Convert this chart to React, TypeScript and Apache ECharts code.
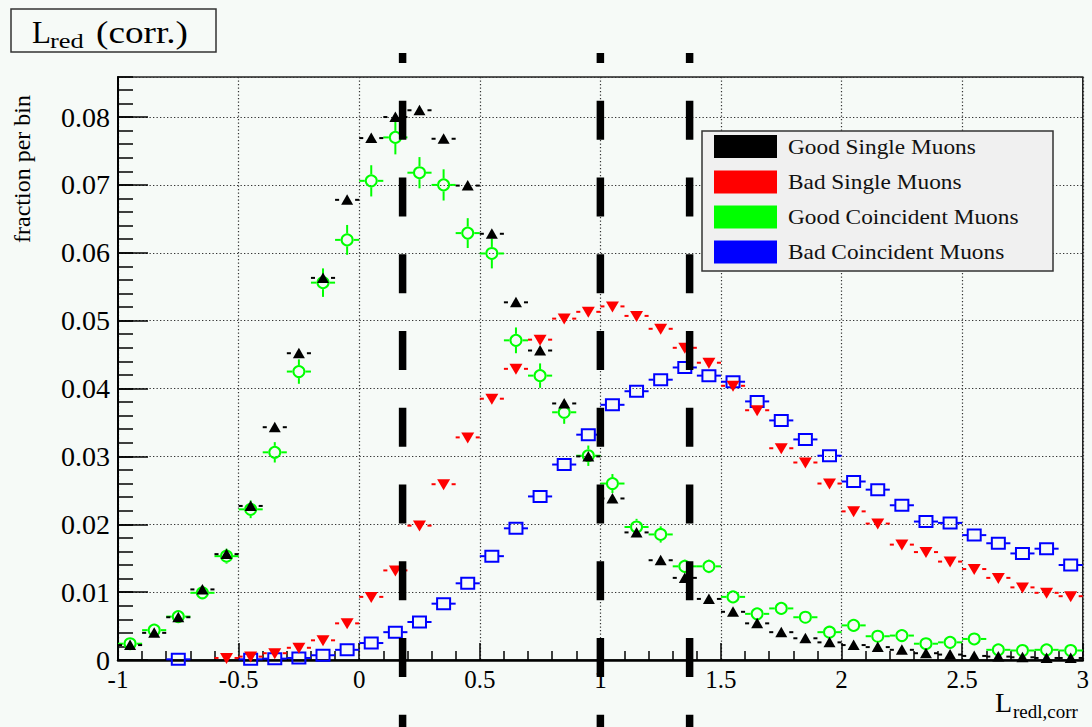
import { useEffect, useRef } from "react";
import * as echarts from "echarts";

// Bin centres of the 40 histogram bins (width 0.1) spanning -1 .. 3
const binCenters = [
  -0.95, -0.85, -0.75, -0.65, -0.55, -0.45, -0.35, -0.25, -0.15, -0.05,
  0.05, 0.15, 0.25, 0.35, 0.45, 0.55, 0.65, 0.75, 0.85, 0.95,
  1.05, 1.15, 1.25, 1.35, 1.45, 1.55, 1.65, 1.75, 1.85, 1.95,
  2.05, 2.15, 2.25, 2.35, 2.45, 2.55, 2.65, 2.75, 2.85, 2.95,
];
const binWidth = 0.1;

// Fraction per bin for each muon class (null = empty bin, not drawn)
const goodSingle = [
  0.0022, 0.0040, 0.0063, 0.0104, 0.0156, 0.0227, 0.0343, 0.0452, 0.0563, 0.0678,
  0.0769, 0.0800, 0.0810, 0.0768, 0.0699, 0.0628, 0.0527, 0.0456, 0.0378, 0.0300,
  0.0238, 0.0188, 0.0147, 0.0121, 0.0090, 0.0071, 0.0054, 0.0041, 0.0032, 0.0026,
  0.0022, 0.0019, 0.0015, 0.0010, 0.0008, 0.0006, 0.0005, 0.0004, 0.0003, 0.0003,
];
const badSingle = [
  null, null, null, null, 0.0003, 0.0005, 0.0010, 0.0018, 0.0029, 0.0054,
  0.0093, 0.0132, 0.0198, 0.0259, 0.0328, 0.0385, 0.0429, 0.0472, 0.0503, 0.0513,
  0.0521, 0.0507, 0.0488, 0.0460, 0.0438, 0.0404, 0.0368, 0.0312, 0.0291, 0.0260,
  0.0219, 0.0201, 0.0170, 0.0159, 0.0145, 0.0134, 0.0121, 0.0107, 0.0099, 0.0094,
];
const goodCoincident = [
  0.0024, 0.0044, 0.0064, 0.0099, 0.0153, 0.0222, 0.0306, 0.0425, 0.0556, 0.0619,
  0.0706, 0.0770, 0.0718, 0.0700, 0.0629, 0.0599, 0.0471, 0.0419, 0.0365, 0.0301,
  0.0260, 0.0196, 0.0185, 0.0138, 0.0138, 0.0093, 0.0068, 0.0076, 0.0063, 0.0041,
  0.0051, 0.0035, 0.0036, 0.0024, 0.0026, 0.0031, 0.0015, 0.0014, 0.0015, 0.0014,
];
const goodCoincidentErr = [
  0.0004, 0.0006, 0.0007, 0.0009, 0.0011, 0.0013, 0.0015, 0.0018, 0.0021, 0.0022,
  0.0023, 0.0025, 0.0023, 0.0023, 0.0022, 0.0022, 0.0019, 0.0018, 0.0017, 0.0015,
  0.0014, 0.0012, 0.0012, 0.0010, 0.0010, 0.0009, 0.0007, 0.0008, 0.0007, 0.0006,
  0.0006, 0.0005, 0.0005, 0.0004, 0.0004, 0.0005, 0.0003, 0.0003, 0.0003, 0.0003,
];
const badCoincident = [
  null, null, 0.0001, null, null, 0.0001, 0.0002, 0.0003, 0.0007, 0.0015,
  0.0025, 0.0041, 0.0056, 0.0083, 0.0113, 0.0153, 0.0194, 0.0241, 0.0288, 0.0332,
  0.0376, 0.0396, 0.0413, 0.0431, 0.0419, 0.0410, 0.0381, 0.0353, 0.0325, 0.0301,
  0.0263, 0.0251, 0.0228, 0.0204, 0.0202, 0.0184, 0.0172, 0.0157, 0.0164, 0.0140,
];

// Cut positions marked with thick dashed lines
const cutValues = [0.18, 1.0, 1.37];

const seriesNames = [
  "Good Single Muons",
  "Bad Single Muons",
  "Good Coincident Muons",
  "Bad Coincident Muons",
];
const seriesColors = ["#000000", "#ff0000", "#00ff00", "#0000ff"];

const FONT = "Liberation Serif";
const BG = "#f6faf7";

type Marker = "triUp" | "triDown" | "circle" | "square";

function histSeries(
  name: string,
  values: (number | null)[],
  errs: number[] | null,
  color: string,
  marker: Marker,
  z: number
) {
  const data: number[][] = [];
  values.forEach((v, i) => {
    if (v != null) data.push([binCenters[i], v, errs ? errs[i] : 0]);
  });
  const gapH = marker === "circle" ? 6.5 : marker === "square" ? 7 : 8;
  const gapV = marker === "circle" ? 6.5 : 6;
  return {
    type: "custom",
    name,
    data,
    z,
    clip: false,
    encode: { x: 0, y: 1 },
    renderItem: (_params: any, api: any) => {
      const xv = api.value(0);
      const yv = api.value(1);
      const ev = api.value(2);
      const c = api.coord([xv, yv]);
      const l = api.coord([xv - binWidth / 2, yv]);
      const r = api.coord([xv + binWidth / 2, yv]);
      const top = api.coord([xv, yv + ev]);
      const bot = api.coord([xv, yv - ev]);
      const stroke = { stroke: color, lineWidth: 2, fill: "none" };
      const children: any[] = [];
      if (c[0] - gapH > l[0])
        children.push({ type: "line", shape: { x1: l[0], y1: c[1], x2: c[0] - gapH, y2: c[1] }, style: stroke });
      if (r[0] > c[0] + gapH)
        children.push({ type: "line", shape: { x1: c[0] + gapH, y1: c[1], x2: r[0], y2: c[1] }, style: stroke });
      if (c[1] - top[1] > gapV)
        children.push({ type: "line", shape: { x1: c[0], y1: top[1], x2: c[0], y2: c[1] - gapV }, style: stroke });
      if (bot[1] - c[1] > gapV)
        children.push({ type: "line", shape: { x1: c[0], y1: c[1] + gapV, x2: c[0], y2: bot[1] }, style: stroke });
      if (marker === "triUp") {
        children.push({
          type: "polygon",
          shape: { points: [[c[0] - 6, c[1] + 5], [c[0] + 6, c[1] + 5], [c[0], c[1] - 5.5]] },
          style: { fill: color },
        });
      } else if (marker === "triDown") {
        children.push({
          type: "polygon",
          shape: { points: [[c[0] - 6.5, c[1] - 5], [c[0] + 6.5, c[1] - 5], [c[0], c[1] + 6]] },
          style: { fill: color },
        });
      } else if (marker === "circle") {
        children.push({ type: "circle", shape: { cx: c[0], cy: c[1], r: 5.5 }, style: stroke });
      } else {
        children.push({ type: "rect", shape: { x: c[0] - 6.5, y: c[1] - 5.5, width: 13, height: 11 }, style: stroke });
      }
      return { type: "group", children };
    },
  };
}

export default function App() {
  const ref = useRef<HTMLDivElement>(null);

  useEffect(() => {
    const chart = echarts.init(ref.current!, null, { renderer: "svg" });
    const yMax = 0.0859;
    const tickLine = { color: "#000", width: 1.5 };
    const gridLine = { color: "#333", width: 1.2, type: [1.3, 2.2] };
    chart.setOption({
      animation: false,
      backgroundColor: BG,
      textStyle: { fontFamily: FONT },
      grid: {
        left: 118,
        right: 8,
        top: 77,
        bottom: 67,
        show: true,
        borderColor: "#222",
        borderWidth: 1.5,
        backgroundColor: "transparent",
      },
      xAxis: {
        type: "value",
        min: -1,
        max: 3,
        interval: 0.5,
        axisLine: { show: true, onZero: false, lineStyle: { color: "#000", width: 2.5 } },
        axisTick: { show: true, inside: true, length: 17, lineStyle: tickLine },
        minorTick: { show: true, splitNumber: 5, length: 9, lineStyle: tickLine },
        splitLine: { show: true, lineStyle: gridLine },
        axisLabel: {
          fontFamily: FONT,
          fontSize: 25,
          color: "#000",
          margin: 7,
          formatter: (v: number) => `{t|${v}}`,
          rich: { t: { fontFamily: FONT, fontSize: 25, color: "#000" } },
        },
      },
      yAxis: [
        {
          type: "value",
          min: 0,
          max: yMax,
          interval: 0.01,
          position: "left",
          axisLine: { show: true, onZero: false, lineStyle: { color: "#000", width: 2 } },
          axisTick: { show: true, inside: true, length: 30, lineStyle: tickLine },
          splitLine: { show: true, lineStyle: gridLine },
          axisLabel: {
            fontFamily: FONT,
            fontSize: 28,
            color: "#000",
            margin: 8,
            showMaxLabel: false,
            formatter: (v: number) => `{t|${v === 0 ? "0" : v.toFixed(2)}}`,
            rich: { t: { fontFamily: FONT, fontSize: 28, color: "#000" } },
          },
        },
        {
          // minor ticks every 0.002
          type: "value",
          min: 0,
          max: yMax,
          interval: 0.002,
          position: "left",
          axisLine: { show: false, onZero: false },
          axisTick: { show: true, inside: true, length: 15, lineStyle: tickLine },
          splitLine: { show: false },
          axisLabel: { show: false },
        },
      ],
      series: [
        histSeries(seriesNames[2], goodCoincident, goodCoincidentErr, seriesColors[2], "circle", 2),
        histSeries(seriesNames[3], badCoincident, null, seriesColors[3], "square", 3),
        histSeries(seriesNames[1], badSingle, null, seriesColors[1], "triDown", 4),
        histSeries(seriesNames[0], goodSingle, null, seriesColors[0], "triUp", 5),
      ],
    });

    const cutLines = cutValues.map((v) => {
      const px = chart.convertToPixel({ xAxisIndex: 0 }, v) as number;
      return {
        type: "line",
        z: 10,
        shape: { x1: px, y1: 53, x2: px, y2: 727 },
        style: { stroke: "#000", lineWidth: 7.5, lineDash: [39, 37.75], lineDashOffset: 28.75 },
      };
    });

    const legendRows = [146.5, 182, 217, 252];
    const legendItems: any[] = [
      {
        type: "rect",
        z: 20,
        shape: { x: 702, y: 131, width: 351, height: 140 },
        style: { fill: "#f0f0f0", stroke: "#333", lineWidth: 1.5 },
      },
    ];
    seriesNames.forEach((n, i) => {
      legendItems.push({
        type: "rect",
        z: 21,
        shape: { x: 714, y: legendRows[i] - 11.5, width: 63, height: 23 },
        style: { fill: seriesColors[i] },
      });
      legendItems.push({
        type: "text",
        z: 21,
        x: 788,
        y: legendRows[i],
        scaleX: 1.06,
        style: { text: n, fontFamily: FONT, fontSize: 22, fill: "#111", align: "left", verticalAlign: "middle" },
      });
    });

    chart.setOption({
      graphic: [
        // title box
        {
          type: "rect",
          z: 20,
          shape: { x: 11, y: 9, width: 205, height: 43 },
          style: { fill: "none", stroke: "#333", lineWidth: 1.5 },
        },
        {
          type: "text",
          z: 21,
          x: 32,
          y: 32.5,
          style: { text: "L", fontFamily: FONT, fontSize: 31, fill: "#000", align: "left", verticalAlign: "middle" },
        },
        {
          type: "text",
          z: 21,
          x: 50,
          y: 40.5,
          scaleX: 1.2,
          style: { text: "red", fontFamily: FONT, fontSize: 22, fill: "#000", align: "left", verticalAlign: "middle" },
        },
        {
          type: "text",
          z: 21,
          x: 96,
          y: 32.5,
          scaleX: 1.2,
          style: { text: "(corr.)", fontFamily: FONT, fontSize: 31, fill: "#000", align: "left", verticalAlign: "middle" },
        },
        // y axis title
        {
          type: "text",
          z: 21,
          x: 22,
          y: 95,
          rotation: Math.PI / 2,
          style: {
            text: "fraction per bin",
            fontFamily: FONT,
            fontSize: 24,
            fill: "#000",
            align: "right",
            verticalAlign: "middle",
          },
        },
        // x axis title
        {
          type: "text",
          z: 21,
          x: 995,
          y: 702.5,
          style: { text: "L", fontFamily: FONT, fontSize: 28, fill: "#000", align: "left", verticalAlign: "middle" },
        },
        {
          type: "text",
          z: 21,
          x: 1013,
          y: 711,
          style: { text: "redl,corr", fontFamily: FONT, fontSize: 19, fill: "#000", align: "left", verticalAlign: "middle" },
        },
        ...legendItems,
        ...cutLines,
      ],
    });

    return () => chart.dispose();
  }, []);

  return (
    <div
      ref={ref}
      style={{ position: "fixed", left: 0, top: 0, width: 1092, height: 727, background: BG }}
    />
  );
}
